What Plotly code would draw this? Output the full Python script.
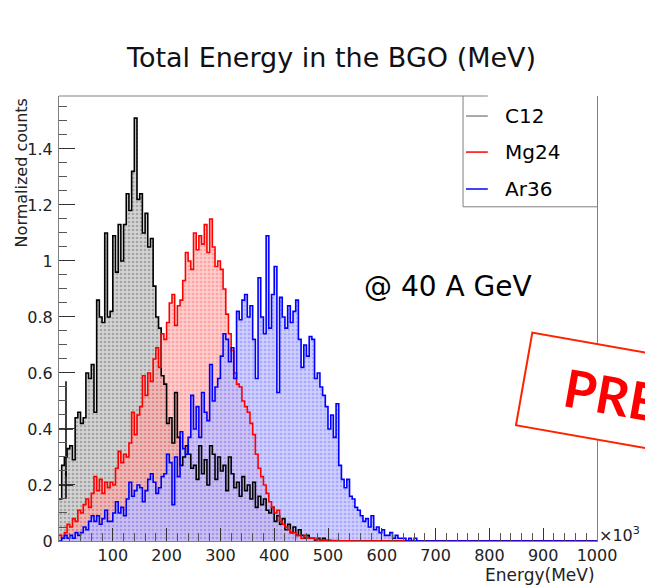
import numpy as np
import plotly.graph_objects as go

# Histogram binning: 200 bins of 5 (x10^3 MeV) over 0-1000
BIN_WIDTH = 5
N_BINS = 200

series_names = ["C12", "Mg24", "Ar36"]

# Normalized counts per bin, starting at 0 (remaining bins are empty)
c12 = [
    0.15, 0.27, 0.30, 0.33, 0.34, 0.29, 0.44, 0.46, 0.42, 0.44,
    0.60, 0.58, 0.63, 0.46, 0.86, 0.80, 0.78, 1.10, 0.80, 0.82,
    1.09, 0.96, 1.13, 1.00, 1.13, 1.24, 1.18, 1.32, 1.51, 1.22,
    1.24, 1.10, 1.17, 1.05, 1.08, 0.91, 0.80, 0.76, 0.59, 0.56,
    0.42, 0.44, 0.35, 0.53, 0.37, 0.27, 0.30, 0.34, 0.31, 0.26,
    0.27, 0.22, 0.34, 0.24, 0.29, 0.20, 0.34, 0.31, 0.22, 0.30,
    0.25, 0.27, 0.18, 0.30, 0.24, 0.19, 0.21, 0.16, 0.23, 0.18,
    0.20, 0.15, 0.21, 0.12, 0.16, 0.13, 0.15, 0.11, 0.10, 0.12,
    0.07, 0.09, 0.06, 0.08, 0.04, 0.06, 0.03, 0.05, 0.02, 0.04,
    0.02, 0.01, 0.02, 0.01, 0.01, 0.00, 0.01, 0.00, 0.01, 0.00,
]
mg24 = [
    0.02, 0.01, 0.03, 0.06, 0.05, 0.08, 0.07, 0.11, 0.10, 0.13,
    0.15, 0.12, 0.17, 0.23, 0.18, 0.22, 0.17, 0.21, 0.19, 0.21,
    0.20, 0.26, 0.32, 0.28, 0.31, 0.30, 0.35, 0.46, 0.38, 0.45,
    0.48, 0.59, 0.52, 0.60, 0.57, 0.65, 0.69, 0.62, 0.74, 0.72,
    0.78, 0.85, 0.88, 0.77, 0.84, 0.86, 0.93, 1.03, 1.00, 0.97,
    1.10, 1.04, 1.09, 1.06, 1.13, 1.03, 1.15, 1.05, 0.98, 1.00,
    0.97, 0.90, 0.81, 0.74, 0.68, 0.60, 0.56, 0.55, 0.50, 0.48,
    0.46, 0.42, 0.38, 0.31, 0.26, 0.23, 0.20, 0.17, 0.14, 0.12,
    0.10, 0.11, 0.07, 0.06, 0.05, 0.04, 0.03, 0.03, 0.02, 0.02,
    0.01, 0.02, 0.01, 0.01, 0.01, 0.005, 0.005, 0.004, 0.003, 0.003,
    0.003, 0.002, 0.002, 0.002, 0.001, 0.001, 0.001, 0.001, 0.0, 0.0,
]
ar36 = [
    0.00, 0.01, 0.02, 0.01, 0.02, 0.01, 0.03, 0.02, 0.03, 0.05,
    0.04, 0.07, 0.09, 0.07, 0.09, 0.06, 0.08, 0.11, 0.07, 0.07,
    0.10, 0.14, 0.10, 0.12, 0.09, 0.15, 0.21, 0.16, 0.18, 0.20,
    0.19, 0.14, 0.18, 0.22, 0.24, 0.21, 0.17, 0.19, 0.23, 0.24,
    0.31, 0.28, 0.13, 0.30, 0.23, 0.39, 0.33, 0.31, 0.37, 0.52,
    0.40, 0.48, 0.37, 0.53, 0.46, 0.43, 0.63, 0.50, 0.55, 0.58,
    0.66, 0.74, 0.72, 0.64, 0.69, 0.58, 0.82, 0.79, 0.86, 0.88,
    0.80, 0.84, 0.72, 0.58, 0.94, 0.80, 0.74, 1.09, 0.76, 0.88,
    0.98, 0.53, 0.87, 0.80, 0.76, 0.84, 0.78, 0.82, 0.86, 0.72,
    0.62, 0.70, 0.66, 0.73, 0.72, 0.58, 0.60, 0.55, 0.52, 0.48,
    0.40, 0.45, 0.37, 0.49, 0.27, 0.22, 0.19, 0.22, 0.16, 0.15,
    0.12, 0.11, 0.09, 0.07, 0.08, 0.05, 0.09, 0.04, 0.05, 0.03,
    0.04, 0.02, 0.02, 0.03, 0.01, 0.02, 0.01, 0.01, 0.01, 0.00,
    0.01, 0.00, 0.01, 0.00, 0.00, 0.00, 0.00, 0.00, 0.00, 0.00,
]

# Error-bar markers on the first C12 bins
c12_err_x = [13, 13]
c12_err_y = [0.40, 0.20]
c12_err_dy = [0.17, 0.05]

x_tick_vals = [100, 200, 300, 400, 500, 600, 700, 800, 900, 1000]
y_tick_vals = [0, 0.2, 0.4, 0.6, 0.8, 1.0, 1.2, 1.4]
y_tick_text = ["0", "0.2", "0.4", "0.6", "0.8", "1", "1.2", "1.4"]

line_colors = ["#000000", "#ff0000", "#0000ff"]
legend_colors = ["#8c8c8c", "#ff0000", "#0000ff"]
pattern_fg = ["rgba(40,40,40,0.55)", "rgba(255,40,40,0.5)", "rgba(30,30,255,0.45)"]
pattern_bg = ["rgba(175,175,175,0.55)", "rgba(255,170,170,0.6)", "rgba(195,195,255,0.8)"]

ROOT_FONT = "DejaVu Sans"
AXIS_GREY = "#808080"

edges = np.arange(N_BINS + 1) * BIN_WIDTH


def step_values(vals):
    counts = np.zeros(N_BINS)
    counts[: len(vals)] = vals
    return np.append(counts, counts[-1])


fig = go.Figure()

# pattern-filled areas first, outlines drawn on top of all fills
for name, vals, fg, bg in zip(series_names, [c12, mg24, ar36], pattern_fg, pattern_bg):
    fig.add_trace(go.Scatter(
        x=edges, y=step_values(vals), name=name, mode="lines",
        line=dict(shape="hv", width=0, color=bg),
        fill="tozeroy", fillcolor=bg,
        fillpattern=dict(shape=".", fgcolor=fg, bgcolor=bg, size=4, solidity=0.35),
        showlegend=False, hoverinfo="skip",
    ))

for name, vals, lc in zip(series_names, [c12, mg24, ar36], line_colors):
    fig.add_trace(go.Scatter(
        x=edges, y=step_values(vals), name=name, mode="lines",
        line=dict(shape="hv", color=lc, width=1.6),
        showlegend=False, hoverinfo="skip",
    ))

fig.add_trace(go.Scatter(
    x=c12_err_x, y=c12_err_y, mode="markers",
    marker=dict(size=1, color="black"),
    error_x=dict(type="constant", value=13, width=0, thickness=1.5, color="black"),
    error_y=dict(type="data", array=c12_err_dy, width=0, thickness=1.5, color="black"),
    showlegend=False, hoverinfo="skip",
))

fig.update_xaxes(
    range=[0, 1000], showgrid=False, zeroline=False,
    showline=True, linecolor=AXIS_GREY, linewidth=1, mirror=False,
    ticks="inside", ticklen=13, tickwidth=1, tickcolor="#333333",
    tickmode="array", tickvals=x_tick_vals, ticklabelstandoff=0,
    tickfont=dict(family=ROOT_FONT, size=16, color="#222222"),
    minor=dict(ticks="inside", ticklen=8, tickwidth=1, tickcolor="#555555",
               tickmode="linear", tick0=0, dtick=20, showgrid=False),
)
fig.update_yaxes(
    range=[0, 1.589], showgrid=False, zeroline=False,
    showline=True, linecolor=AXIS_GREY, linewidth=1, mirror=True,
    ticks="inside", ticklen=16, tickwidth=1, tickcolor="#333333",
    tickmode="array", tickvals=y_tick_vals, ticktext=y_tick_text,
    ticklabelstandoff=2,
    tickfont=dict(family=ROOT_FONT, size=16, color="#222222"),
    minor=dict(ticks="inside", ticklen=8, tickwidth=1, tickcolor="#555555",
               tickmode="linear", tick0=0, dtick=0.05, showgrid=False),
)

shapes = [
    # top edge of the frame (interrupted by the legend block)
    dict(type="line", xref="paper", yref="paper", x0=0, x1=0.797, y0=1, y1=1,
         line=dict(color=AXIS_GREY, width=1)),
    # legend box: left and bottom edges
    dict(type="path", xref="paper", yref="paper",
         path="M 0.751,1 L 0.751,0.751 L 1,0.751",
         line=dict(color=AXIS_GREY, width=1)),
]
legend_y = [0.955, 0.874, 0.791]
for ly, col in zip(legend_y, legend_colors):
    shapes.append(dict(type="line", xref="paper", yref="paper",
                       x0=0.7565, x1=0.797, y0=ly, y1=ly,
                       line=dict(color=col, width=1.5)))

annotations = [
    dict(text="Total Energy in the BGO (MeV)", xref="paper", yref="paper",
         x=0.505, y=1.086, xanchor="center", yanchor="middle", showarrow=False,
         font=dict(family=ROOT_FONT, size=27, color="#111111")),
    dict(text="Energy(MeV)", xref="paper", yref="paper",
         x=1.0, y=-0.076, xanchor="right", yanchor="middle", showarrow=False,
         font=dict(family=ROOT_FONT, size=17, color="#222222")),
    dict(text="Normalized counts", xref="paper", yref="paper", textangle=-90,
         x=-0.069, y=1.0, xanchor="center", yanchor="top", showarrow=False,
         font=dict(family=ROOT_FONT, size=16, color="#222222")),
    dict(text="×10<sup>3</sup>", xref="paper", yref="paper",
         x=1.0, y=0.014, xanchor="left", yanchor="middle", showarrow=False,
         font=dict(family=ROOT_FONT, size=16, color="#222222")),
    dict(text="@ 40 A GeV", xref="paper", yref="paper",
         x=0.563, y=0.573, xanchor="left", yanchor="middle", showarrow=False,
         font=dict(family=ROOT_FONT, size=28, color="#000000")),
    dict(text="&nbsp;&nbsp;PRELIMINARY", xref="paper", yref="paper", textangle=10,
         x=0.8476, y=0.4697, xanchor="left", yanchor="top", showarrow=False,
         bgcolor="white", bordercolor="#ff2200", borderwidth=2, borderpad=15,
         font=dict(family="Lato", size=52, color="#ff0000", weight="bold")),
]
for ly, name in zip(legend_y, series_names):
    annotations.append(dict(text=name, xref="paper", yref="paper",
                            x=0.825, y=ly, xanchor="left", yanchor="middle",
                            showarrow=False,
                            font=dict(family=ROOT_FONT, size=20, color="#000000")))

fig.update_layout(
    width=645, height=585, autosize=False,
    margin=dict(l=59, r=48, t=96, b=44),
    paper_bgcolor="white", plot_bgcolor="white",
    showlegend=False, shapes=shapes, annotations=annotations,
)

fig.write_html("out.html")
